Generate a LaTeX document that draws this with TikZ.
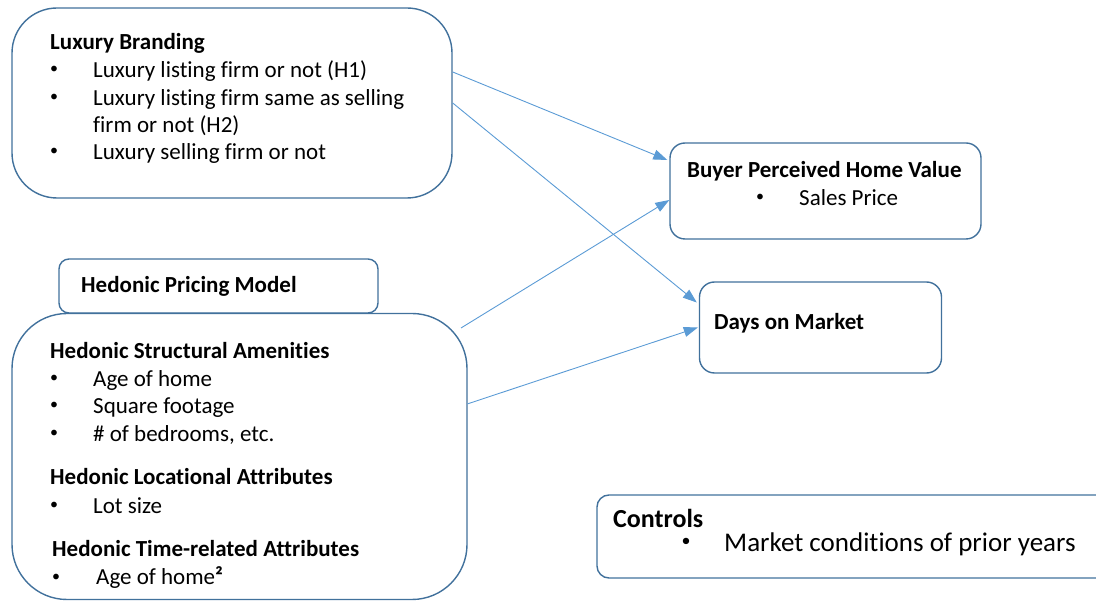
\documentclass[tikz,border=0pt]{standalone}
\usepackage{fontspec}
\setmainfont{Carlito}[Ligatures=NoCommon]
\usetikzlibrary{arrows.meta,calc}
\definecolor{boxblue}{HTML}{41719C}
\definecolor{arrowblue}{HTML}{5B9BD5}
\begin{document}
\begin{tikzpicture}[x=1pt,y=-1pt,
  box/.style={draw=boxblue, line width=1.4pt, rounded corners=#1, inner sep=0pt, fill=white},
  txt/.style={anchor=west, inner sep=0pt, font=\fontsize{23}{28}\selectfont, text height=14.5pt, text depth=0pt},
  hd/.style={txt, font=\fontsize{23}{28}\selectfont\bfseries},
  bul/.style={anchor=center, inner sep=0pt, font=\fontsize{16}{20}\selectfont, text height=10pt, text depth=0pt, yshift=1pt},
  ctxt/.style={anchor=west, inner sep=0pt, font=\fontsize{27}{32}\selectfont, text height=17pt, text depth=0pt},
  conn/.style={draw=arrowblue, line width=0.9pt, -{Triangle[length=14pt,width=10pt]}}
]
\useasboundingbox (0,0) rectangle (1096,601);
% boxes
\node[box=45pt, minimum width=440pt, minimum height=190pt] (lux) at (232,103) {};
\node[box=10pt, minimum width=319pt, minimum height=54pt] (hpm) at (218.5,286) {};
\node[box=55pt, minimum width=455pt, minimum height=286pt] (hed) at (239.5,456.5) {};
\node[box=15pt, minimum width=311pt, minimum height=96pt] (buy) at (825.5,191) {};
\node[box=15pt, minimum width=242pt, minimum height=91pt] (days) at (820.5,327.5) {};
\draw[boxblue, line width=1.4pt, rounded corners=12pt] (1096,495) -- (597,495) -- (597,578) -- (1096,578);
% Luxury branding text
\node[hd] (lb) at (50,42) {Luxury Branding};
\node[bul] (lbb1) at (54,70) {•};
\node[txt] (lb1) at (93,70) {Luxury listing firm or not (H1)};
\node[bul] (lbb2) at (54,98) {•};
\node[txt] (lb2) at (93,98) {Luxury listing firm same as selling};
\node[txt] (lb2b) at (93,125) {firm or not (H2)};
\node[bul] (lbb3) at (54,152) {•};
\node[txt] (lb3) at (93,152) {Luxury selling firm or not};
% Hedonic pricing model
\node[hd] (hp) at (81,285) {Hedonic Pricing Model};
\node[hd] (hs) at (50,351) {Hedonic Structural Amenities};
\node[bul] (hsb1) at (54,379) {•};
\node[txt] (hs1) at (93,379) {Age of home};
\node[bul] (hsb2) at (54,406) {•};
\node[txt] (hs2) at (93,406) {Square footage};
\node[bul] (hsb3) at (54,434) {•};
\node[txt] (hs3) at (93,434) {\# of bedrooms, etc.};
\node[hd] (hl) at (50,477) {Hedonic Locational Attributes};
\node[bul] (hlb1) at (54,506) {•};
\node[txt] (hl1) at (93,506) {Lot size};
\node[hd] (ht) at (52,549) {Hedonic Time-related Attributes};
\node[bul] (htb1) at (56,577) {•};
\node[txt] (ht1) at (96,577) {Age of home{\bfseries ²}};
% outcomes
\node[hd] (bv) at (687,170) {Buyer Perceived Home Value};
\node[bul] (bvb) at (760,198) {•};
\node[txt] (bv1) at (799,198) {Sales Price};
\node[hd] (dm) at (714,322) {Days on Market};
% controls
\node[ctxt, font=\fontsize{26}{31}\selectfont\bfseries] (ct) at (613,519) {Controls};
\node[bul, font=\fontsize{18}{22}\selectfont] (ctb) at (686,543) {•};
\node[ctxt] (ct1) at (724,543) {Market conditions of prior years};
% connectors
\coordinate (h3) at (461,328);
\draw[conn] (lux.8) -- ($(buy.west)+(-2,-31)$);
\draw[conn] (lux.east) -- ($(days.west)+(-2,-25)$);
\draw[conn] (h3) -- ($(buy.west)+(0,9)$);
\draw[conn] (hed.13) -- ($(days.west)+(-1,0)$);
\end{tikzpicture}
\end{document}
